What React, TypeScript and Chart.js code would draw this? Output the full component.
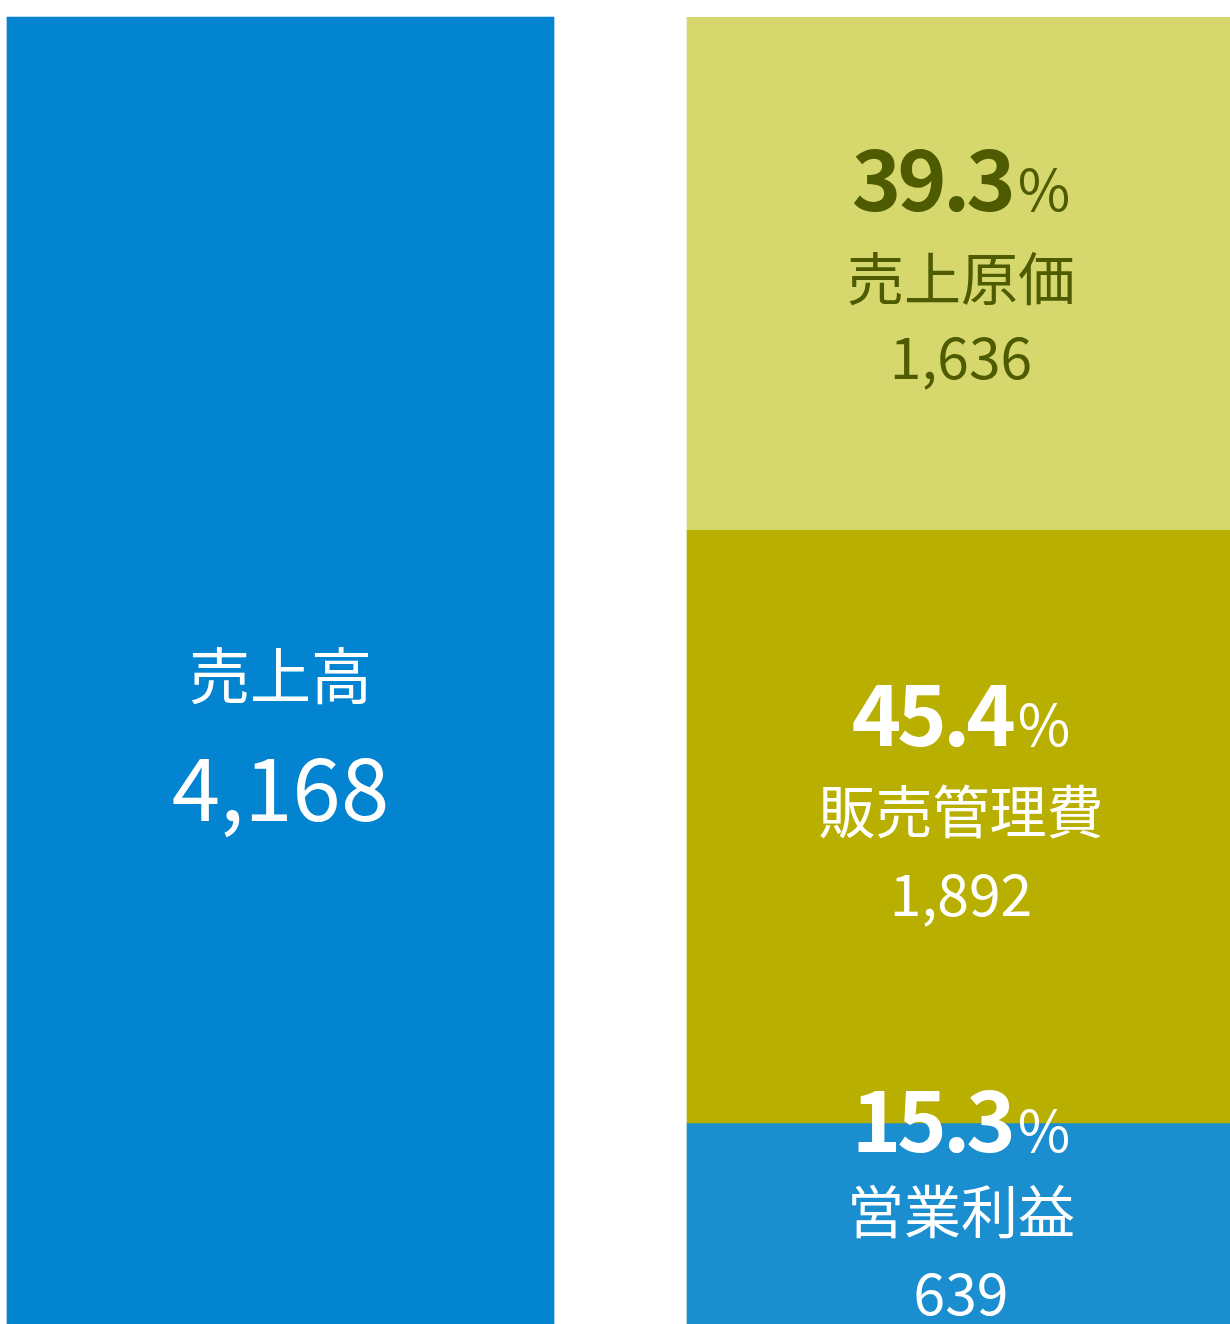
import React, { useEffect, useRef } from 'react';
import { Chart, registerables } from 'chart.js';

Chart.register(...registerables);

// ---- data ----
const categories = ['売上高', '内訳'];
const seriesNames = ['売上高', '営業利益', '販売管理費', '売上原価'];
const salesValues = [4168, null];
const operatingProfitValues = [null, 639];
const sgaValues = [null, 1892];
const costOfSalesValues = [null, 1636];
const percentLabels = ['', '15.3', '45.4', '39.3'];
const seriesColors = ['#0284D0', '#1A8ECF', '#B8AF00', '#D6D86E'];

// ---- label styling (not data) ----
const FONT = "'Noto Sans CJK JP', 'Noto Sans', sans-serif";
const labelStyles = [
  { color: '#FFFFFF', nameSize: 61, numSize: 87, nameOffset: 4.5, numGap: 114.5, pctGap: 0, dx: 0 },
  { color: '#FFFFFF', nameSize: 57, numSize: 57, nameOffset: -12, numGap: 83, pctGap: 90, dx: 0.5 },
  { color: '#FFFFFF', nameSize: 57, numSize: 57, nameOffset: -15, numGap: 84, pctGap: 96, dx: 0.5 },
  { color: '#4E5B00', nameSize: 57, numSize: 57, nameOffset: 5, numGap: 80, pctGap: 98, dx: 0.5 },
];

const segmentLabelPlugin = {
  id: 'segmentLabels',
  afterDatasetsDraw(chart: any) {
    const ctx = chart.ctx as any;
    chart.data.datasets.forEach((ds: any, di: number) => {
      const meta = chart.getDatasetMeta(di);
      const st = labelStyles[di];
      meta.data.forEach((el: any, i: number) => {
        const v = ds.data[i];
        if (v == null) return;
        const { x, y, base } = el.getProps(['x', 'y', 'base'], true);
        const cx = x + st.dx;
        const cy = (y + base) / 2;
        const nameC = cy + st.nameOffset;
        ctx.save();
        ctx.fillStyle = st.color;
        ctx.textBaseline = 'alphabetic';
        ctx.textAlign = 'center';

        // name
        ctx.font = `400 ${st.nameSize}px ${FONT}`;
        const mn = ctx.measureText(ds.label);
        ctx.fillText(ds.label, cx, nameC + (mn.actualBoundingBoxAscent - mn.actualBoundingBoxDescent) / 2);

        // number
        const numText = Number(v).toLocaleString('en-US');
        ctx.font = `400 ${st.numSize}px ${FONT}`;
        const md = ctx.measureText(numText.replace(/,/g, ''));
        const numC = nameC + st.numGap;
        ctx.fillText(numText, cx, numC + (md.actualBoundingBoxAscent - md.actualBoundingBoxDescent) / 2);

        // percent
        const pct = percentLabels[di];
        if (pct) {
          const pctC = nameC - st.pctGap;
          ctx.textAlign = 'left';
          ctx.font = `700 84px ${FONT}`;
          ctx.letterSpacing = '-4px';
          const mp = ctx.measureText(pct);
          const mpd = ctx.measureText(pct.replace('.', ''));
          ctx.letterSpacing = '0px';
          ctx.font = `400 57px ${FONT}`;
          const ms = ctx.measureText('%');
          const gap = 6;
          const total = mp.width + gap + ms.width;
          const x0 = cx - total / 2;
          const baseY = pctC + (mpd.actualBoundingBoxAscent - mpd.actualBoundingBoxDescent) / 2;
          ctx.font = `700 84px ${FONT}`;
          ctx.letterSpacing = '-4px';
          ctx.fillText(pct, x0, baseY);
          ctx.letterSpacing = '0px';
          ctx.font = `400 57px ${FONT}`;
          ctx.fillText('%', x0 + mp.width + gap, baseY);
        }
        ctx.restore();
      });
    });
  },
};

export default function App() {
  const canvasRef = useRef<HTMLCanvasElement | null>(null);

  useEffect(() => {
    const canvas = canvasRef.current;
    if (!canvas) return;
    const seriesValues = [salesValues, operatingProfitValues, sgaValues, costOfSalesValues];
    const chart = new Chart(canvas, {
      type: 'bar',
      data: {
        labels: categories,
        datasets: seriesNames.map((name, i) => ({
          label: name,
          data: seriesValues[i],
          backgroundColor: seriesColors[i],
          borderWidth: 0,
          barThickness: 547,
          clip: false as any,
        })),
      },
      options: {
        responsive: false,
        devicePixelRatio: 1,
        animation: false,
        layout: { padding: { left: 280.5, right: 269.5, top: 17, bottom: 0 } },
        plugins: {
          legend: { display: false },
          tooltip: { enabled: false },
        },
        scales: {
          x: { type: 'category', stacked: true, offset: false, display: false, grid: { display: false } },
          y: { stacked: true, min: 0, max: 4168, display: false, grid: { display: false } },
        },
      },
      plugins: [segmentLabelPlugin],
    });
    return () => chart.destroy();
  }, []);

  return (
    <div style={{ position: 'absolute', left: 0, top: 0, width: 1230, height: 1324, overflow: 'hidden' }}>
      <canvas ref={canvasRef} width={1230} height={1324} style={{ display: 'block', width: 1230, height: 1324 }} />
    </div>
  );
}
